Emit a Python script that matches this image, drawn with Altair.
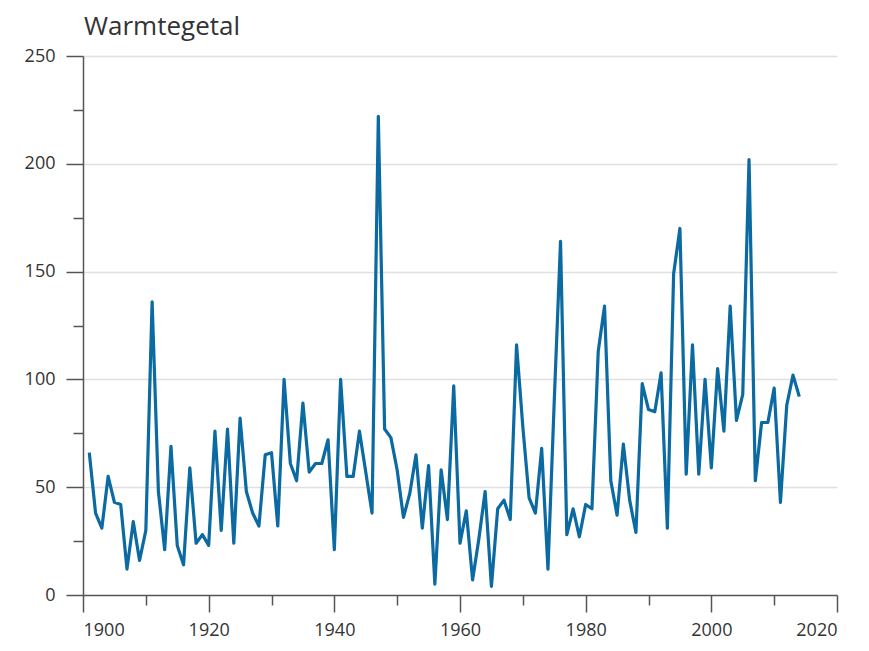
import altair as alt
import pandas as pd

years = list(range(1901, 2015))
values = [
    66, 38, 31, 55, 43, 42, 12, 34, 16, 30,      # 1901-1910
    136, 48, 21, 69, 23, 14, 59, 24, 28, 23,     # 1911-1920
    76, 30, 77, 24, 82, 48, 38, 32, 65, 66,      # 1921-1930
    32, 100, 61, 53, 89, 57, 61, 61, 72, 21,     # 1931-1940
    100, 55, 55, 76, 57, 38, 222, 77, 73, 58,    # 1941-1950
    36, 47, 65, 31, 60, 5, 58, 35, 97, 24,       # 1951-1960
    39, 7, 26, 48, 4, 40, 44, 35, 116, 78,       # 1961-1970
    45, 38, 68, 12, 90, 164, 28, 40, 27, 42,     # 1971-1980
    40, 113, 134, 53, 37, 70, 44, 29, 98, 86,    # 1981-1990
    85, 103, 31, 149, 170, 56, 116, 56, 100, 59, # 1991-2000
    105, 76, 134, 81, 93, 202, 53, 80, 80, 96,   # 2001-2010
    43, 88, 102, 92,                             # 2011-2014
]
x_ticks = list(range(1900, 2021, 10))
y_ticks = list(range(0, 251, 25))
title_text = "Warmtegetal"

df = pd.DataFrame({"jaar": years, "warmtegetal": values})

FONT = "Open Sans"
AXIS_COLOR = "#555555"
LABEL_COLOR = "#333333"

x_axis = alt.Axis(
    title=None,
    values=x_ticks,
    format="d",
    labelExpr="datum.value % 20 === 0 ? datum.label : ''",
    tickSize={"condition": {"test": "datum.value % 20 === 0", "value": 17}, "value": 10},
    grid=False,
    labelPadding=9,
    labelFont=FONT,
    labelFontSize=18,
    labelColor=LABEL_COLOR,
    domainColor=AXIS_COLOR,
    domainWidth=1.5,
    tickColor=AXIS_COLOR,
    tickWidth=1.5,
)

y_axis = alt.Axis(
    title=None,
    values=y_ticks,
    labelExpr="datum.value % 50 === 0 ? datum.label : ''",
    tickSize={"condition": {"test": "datum.value % 50 === 0", "value": 17}, "value": 10},
    grid=True,
    gridColor="#e0e0e0",
    gridWidth=1.5,
    gridOpacity={"condition": {"test": "datum.value % 50 === 0 && datum.value > 0", "value": 1}, "value": 0},
    labelPadding=11,
    labelFont=FONT,
    labelFontSize=18,
    labelColor=LABEL_COLOR,
    domainColor=AXIS_COLOR,
    domainWidth=1.5,
    tickColor=AXIS_COLOR,
    tickWidth=1.5,
)

chart = (
    alt.Chart(df)
    .mark_line(color="#0a6aa1", strokeWidth=3.2, strokeJoin="round")
    .encode(
        x=alt.X("jaar:Q", scale=alt.Scale(domain=[1900, 2020], nice=False, zero=False), axis=x_axis),
        y=alt.Y("warmtegetal:Q", scale=alt.Scale(domain=[0, 250], nice=False), axis=y_axis),
    )
    .properties(
        width=754,
        height=539,
        title=alt.TitleParams(
            title_text,
            anchor="start",
            frame="group",
            font=FONT,
            fontSize=26,
            fontWeight="normal",
            color=LABEL_COLOR,
            offset=7,
            dx=1,
        ),
        autosize=alt.AutoSizeParams(type="none"),
        padding={"left": 75, "top": 48, "right": 20, "bottom": 48},
    )
    .configure_view(stroke=None)
)

chart.save("out.html", embed_options={"renderer": "svg", "actions": False})
